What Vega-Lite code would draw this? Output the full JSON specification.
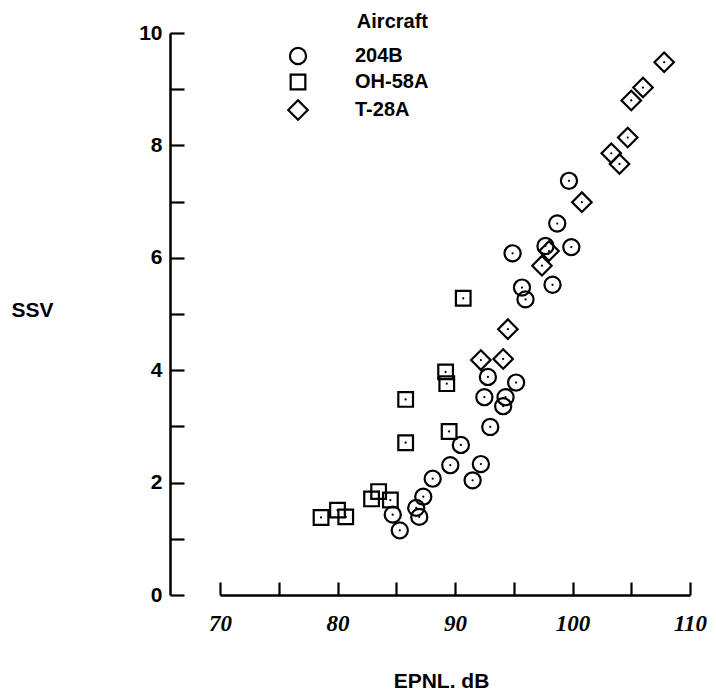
{
  "$schema": "https://vega.github.io/schema/vega-lite/v6.json",
  "width": 470,
  "height": 562,
  "autosize": {"type": "none"},
  "padding": {"left": 220, "top": 33, "right": 26, "bottom": 101},
  "background": "white",
  "config": {
    "view": {"stroke": null},
    "font": "Liberation Sans",
    "axis": {"grid": false, "domainColor": "black", "tickColor": "black", "labelColor": "black", "titleColor": "black", "domainWidth": 2.5, "tickWidth": 2.2}
  },
  "data": {
    "values": [
      {"aircraft": "204B", "epnl": 94.9, "ssv": 6.08},
      {"aircraft": "204B", "epnl": 99.7, "ssv": 7.37},
      {"aircraft": "204B", "epnl": 98.7, "ssv": 6.61},
      {"aircraft": "204B", "epnl": 97.7, "ssv": 6.21},
      {"aircraft": "204B", "epnl": 99.9, "ssv": 6.19},
      {"aircraft": "204B", "epnl": 98.3, "ssv": 5.52},
      {"aircraft": "204B", "epnl": 95.7, "ssv": 5.47},
      {"aircraft": "204B", "epnl": 96.0, "ssv": 5.26},
      {"aircraft": "204B", "epnl": 92.8, "ssv": 3.88},
      {"aircraft": "204B", "epnl": 95.2, "ssv": 3.78},
      {"aircraft": "204B", "epnl": 92.5, "ssv": 3.52},
      {"aircraft": "204B", "epnl": 94.3, "ssv": 3.52},
      {"aircraft": "204B", "epnl": 94.1, "ssv": 3.36},
      {"aircraft": "204B", "epnl": 93.0, "ssv": 2.99},
      {"aircraft": "204B", "epnl": 90.5, "ssv": 2.67},
      {"aircraft": "204B", "epnl": 89.6, "ssv": 2.31},
      {"aircraft": "204B", "epnl": 92.2, "ssv": 2.33},
      {"aircraft": "204B", "epnl": 91.5, "ssv": 2.04},
      {"aircraft": "204B", "epnl": 88.1, "ssv": 2.07},
      {"aircraft": "204B", "epnl": 87.3, "ssv": 1.75},
      {"aircraft": "204B", "epnl": 86.7, "ssv": 1.55},
      {"aircraft": "204B", "epnl": 86.96, "ssv": 1.39},
      {"aircraft": "204B", "epnl": 84.7, "ssv": 1.43},
      {"aircraft": "204B", "epnl": 85.3, "ssv": 1.15},
      {"aircraft": "OH-58A", "epnl": 90.7, "ssv": 5.28},
      {"aircraft": "OH-58A", "epnl": 89.2, "ssv": 3.97},
      {"aircraft": "OH-58A", "epnl": 89.3, "ssv": 3.76},
      {"aircraft": "OH-58A", "epnl": 85.8, "ssv": 3.48},
      {"aircraft": "OH-58A", "epnl": 85.8, "ssv": 2.71},
      {"aircraft": "OH-58A", "epnl": 89.5, "ssv": 2.91},
      {"aircraft": "OH-58A", "epnl": 83.5, "ssv": 1.84},
      {"aircraft": "OH-58A", "epnl": 82.9, "ssv": 1.71},
      {"aircraft": "OH-58A", "epnl": 84.5, "ssv": 1.69},
      {"aircraft": "OH-58A", "epnl": 80.0, "ssv": 1.51},
      {"aircraft": "OH-58A", "epnl": 80.7, "ssv": 1.39},
      {"aircraft": "OH-58A", "epnl": 78.6, "ssv": 1.38},
      {"aircraft": "T-28A", "epnl": 107.8, "ssv": 9.48},
      {"aircraft": "T-28A", "epnl": 106.0, "ssv": 9.03},
      {"aircraft": "T-28A", "epnl": 105.0, "ssv": 8.8},
      {"aircraft": "T-28A", "epnl": 104.7, "ssv": 8.14},
      {"aircraft": "T-28A", "epnl": 103.3, "ssv": 7.86},
      {"aircraft": "T-28A", "epnl": 104.0, "ssv": 7.67},
      {"aircraft": "T-28A", "epnl": 100.8, "ssv": 6.99},
      {"aircraft": "T-28A", "epnl": 98.0, "ssv": 6.12},
      {"aircraft": "T-28A", "epnl": 97.4, "ssv": 5.86},
      {"aircraft": "T-28A", "epnl": 94.5, "ssv": 4.73},
      {"aircraft": "T-28A", "epnl": 92.2, "ssv": 4.18},
      {"aircraft": "T-28A", "epnl": 94.1, "ssv": 4.2}
    ]
  },
  "encoding": {
    "x": {
      "field": "epnl", "type": "quantitative",
      "scale": {"domain": [70, 110], "nice": false, "zero": false},
      "axis": {
        "title": "EPNL. dB",
        "values": [70, 75, 80, 85, 90, 95, 100, 105, 110],
        "labelExpr": "datum.value % 10 == 0 ? datum.label : ''",
        "tickSize": -13,
        "labelPadding": 30,
        "labelFont": "Liberation Serif",
        "labelFontStyle": "italic",
        "labelFontWeight": "bold",
        "labelFontSize": 23,
        "labelFlush": false,
        "titleFontSize": 21,
        "titleFontWeight": "bold",
        "titleX": 221,
        "titleY": 86,
        "titleAlign": "center",
        "titleBaseline": "middle"
      }
    },
    "y": {
      "field": "ssv", "type": "quantitative",
      "scale": {"domain": [0, 10], "nice": false},
      "axis": {
        "title": "SSV",
        "values": [0, 1, 2, 3, 4, 5, 6, 7, 8, 9, 10],
        "labelExpr": "datum.value % 2 == 0 ? datum.label : ''",
        "offset": 50,
        "tickSize": -14,
        "labelPadding": 22,
        "labelFontSize": 21,
        "labelFontWeight": "bold",
        "labelFlush": false,
        "titleFontSize": 21,
        "titleFontWeight": "bold",
        "titleAngle": 0,
        "titleX": -138,
        "titleY": 277,
        "titleAlign": "center",
        "titleBaseline": "middle"
      }
    }
  },
  "layer": [
    {
      "mark": {"type": "point", "filled": false, "color": "black", "strokeWidth": 2.2, "opacity": 1},
      "encoding": {
        "shape": {
          "field": "aircraft", "type": "nominal",
          "scale": {"domain": ["204B", "OH-58A", "T-28A"], "range": ["circle", "square", "diamond"]},
          "legend": {
            "title": "Aircraft",
            "orient": "none",
            "legendX": 67,
            "legendY": -21,
            "titleAnchor": "end",
            "titleFontSize": 20,
            "titleFontWeight": "bold",
            "titleColor": "black",
            "titlePadding": 14,
            "labelFontSize": 20,
            "labelFontWeight": "bold",
            "labelColor": "black",
            "labelOffset": 46,
            "rowPadding": 1,
            "symbolStrokeWidth": 2.2,
            "symbolStrokeColor": "black"
          }
        },
        "size": {
          "field": "aircraft", "type": "nominal",
          "scale": {"type": "ordinal", "domain": ["204B", "OH-58A", "T-28A"], "range": [260, 215, 380]}
        }
      }
    },
    {
      "mark": {"type": "point", "filled": true, "color": "black", "size": 5, "opacity": 1}
    }
  ]
}
